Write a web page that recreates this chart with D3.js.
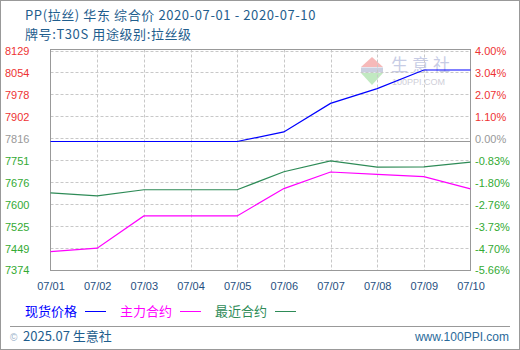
<!DOCTYPE html>
<html><head><meta charset="utf-8">
<script src="https://cdn.jsdelivr.net/npm/d3@7/dist/d3.min.js"></script>
<style>
html,body{margin:0;padding:0;background:#fff;}
svg{display:block;}
</style></head>
<body><svg id="c" width="520" height="350"></svg>
<script>
const dates = ["07/01","07/02","07/03","07/04","07/05","07/06","07/07","07/08","07/09","07/10"];
const spotPrice = [7816,7816,7816,7816,7816,7849,7947,7998,8062,8062];
const mainContract = [7437,7449,7560,7560,7560,7654,7711,7703,7695,7653];
const nearContract = [7639,7629,7650,7650,7650,7712,7749,7728,7729,7745];
const basePrice = 7816;
const leftTicks = ["8129","8054","7978","7902","7816","7751","7676","7600","7525","7449","7374"];
const rightTicks = ["4.00%","3.04%","2.07%","1.10%","0.00%","-0.83%","-1.80%","-2.76%","-3.73%","-4.70%","-5.66%"];
const titleLine1 = "PP(拉丝) 华东 综合价 2020-07-01 - 2020-07-10";
const titleLine2 = "牌号:T30S 用途级别:拉丝级";
const seriesNames = ["现货价格","主力合约","最近合约"];
const seriesColors = ["#0000ff","#ff00ff","#2e8b57"];

const svg = d3.select("#c");
const L = 50.5, R = 470.5, T = 49.5, B = 270.5;
const font = "'Liberation Sans', Arial, sans-serif";
const cjk = "'Noto Sans CJK SC', sans-serif";

// outer border
svg.append("rect").attr("x",0.5).attr("y",0.5).attr("width",519).attr("height",349)
  .attr("fill","#fff").attr("stroke","#999");

// titles
svg.append("text").attr("x",25).attr("y",20).attr("fill","#1f5e8e")
  .style("font-family",cjk).style("font-size","13px").style("letter-spacing","0.6px").text(titleLine1);
svg.append("text").attr("x",25).attr("y",39).attr("fill","#1f5e8e")
  .style("font-family",cjk).style("font-size","13px").style("letter-spacing","0.6px").text(titleLine2);

const x = d3.scalePoint().domain(dates).range([L, R]);
const y = d3.scaleLinear().domain([7374, 8129]).range([B - 0.5, T + 1]);
const yi = d3.scaleLinear().domain([0, leftTicks.length - 1]).range([T + 1, B - 0.5]);

// watermark
const wm = svg.append("g").attr("opacity",0.55);
wm.append("path").attr("d","M372,57 L383,67 L361,67 Z").attr("fill","#f08080");
wm.append("rect").attr("x",361).attr("y",67.5).attr("width",22).attr("height",5).attr("fill","#a0a8c8");
wm.append("path").attr("d","M361,73 L383,73 L372,85 Z").attr("fill","#90d890");
wm.append("text").attr("x",391).attr("y",71).attr("fill","#9aa4d0")
  .style("font-family",cjk).style("font-size","17px").style("letter-spacing","4px").text("生意社");
wm.append("text").attr("x",392).attr("y",85).attr("fill","#a8a8b8")
  .style("font-family",font).style("font-size","9px").text("100PPI.COM");

// horizontal grid
svg.append("g").selectAll("line").data(d3.range(leftTicks.length)).join("line")
  .attr("x1",L).attr("x2",R).attr("y1",d=>Math.round(yi(d))+0.5).attr("y2",d=>Math.round(yi(d))+0.5)
  .attr("stroke","#c8c8c8").attr("stroke-dasharray","3,2");
// vertical grid
svg.append("g").selectAll("line").data(dates.slice(1,-1)).join("line")
  .attr("x1",d=>Math.round(x(d))+0.5).attr("x2",d=>Math.round(x(d))+0.5).attr("y1",T).attr("y2",B)
  .attr("stroke","#c8c8c8").attr("stroke-dasharray","3,2");

// baseline at 0%
svg.append("line").attr("x1",L).attr("x2",R).attr("y1",Math.round(y(basePrice))+0.5).attr("y2",Math.round(y(basePrice))+0.5)
  .attr("stroke","#999").attr("stroke-width",1);

// frame
svg.append("rect").attr("x",L).attr("y",T).attr("width",R-L).attr("height",B-T)
  .attr("fill","none").attr("stroke","#999");

// series
const line = d3.line().x((d,i)=>x(dates[i])).y(d=>y(d));
[spotPrice, mainContract, nearContract].forEach((s,k)=>{
  svg.append("path").datum(s).attr("d",line).attr("fill","none")
    .attr("stroke",seriesColors[k]).attr("stroke-width",1.2);
});

function tickColor(i){
  const v = +leftTicks[i];
  return v > basePrice ? "#ee3333" : (v === basePrice ? "#999999" : "#33aa33");
}

// left axis
const ax = svg.append("g").attr("transform",`translate(5,0)`)
  .call(d3.axisLeft(yi).tickValues(d3.range(leftTicks.length)).tickSize(0).tickPadding(0).tickFormat(i=>leftTicks[i]));
ax.select(".domain").remove();
ax.selectAll("text").attr("text-anchor","start").attr("x",0).attr("dy","0.36em")
  .attr("fill",(d)=>tickColor(d)).style("font-family",font).style("font-size","11px");

// right axis
const ar = svg.append("g").attr("transform",`translate(475,0)`)
  .call(d3.axisRight(yi).tickValues(d3.range(rightTicks.length)).tickSize(0).tickPadding(0).tickFormat(i=>rightTicks[i]));
ar.select(".domain").remove();
ar.selectAll("text").attr("x",0).attr("dy","0.36em")
  .attr("fill",(d)=>tickColor(d)).style("font-family",font).style("font-size","11px");

// bottom axis
const ab = svg.append("g").attr("transform",`translate(0,${B})`)
  .call(d3.axisBottom(x).tickSize(0).tickPadding(12));
ab.select(".domain").remove();
ab.selectAll("text").attr("fill","#1f4f7f").style("font-family",font).style("font-size","11px");

// legend
const legX = [25,120,215];
seriesNames.forEach((n,k)=>{
  svg.append("text").attr("x",legX[k]).attr("y",316).attr("fill",seriesColors[k])
    .style("font-family",cjk).style("font-size","13px").text(n);
  svg.append("line").attr("x1",legX[k]+60).attr("x2",legX[k]+81).attr("y1",311.5).attr("y2",311.5)
    .attr("stroke",seriesColors[k]).attr("stroke-width",1);
});

// footer
svg.append("line").attr("x1",10).attr("x2",510).attr("y1",326.5).attr("y2",326.5).attr("stroke","#999");
svg.append("text").attr("x",10).attr("y",341).attr("fill","#9ab0c8")
  .style("font-family",font).style("font-size","10px").text("©");
svg.append("text").attr("x",23).attr("y",341).attr("fill","#1f5e8e")
  .style("font-family",cjk).style("font-size","13px").text("2025.07 生意社");
svg.append("text").attr("x",509).attr("y",341).attr("text-anchor","end").attr("fill","#2a6a9a")
  .style("font-family",font).style("font-size","12px").text("www.100PPI.com");
</script></body></html>
